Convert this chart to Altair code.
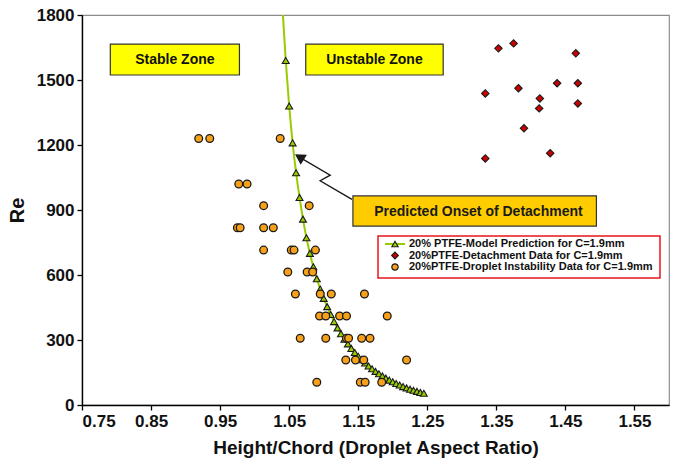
import altair as alt
import pandas as pd

# ---------------- data ----------------
model_x = [1.040, 1.045, 1.050, 1.055, 1.060, 1.065, 1.070, 1.075, 1.080, 1.085, 1.090,
           1.095, 1.100, 1.105, 1.110, 1.115, 1.120, 1.125, 1.130, 1.135, 1.140,
           1.145, 1.150, 1.155, 1.160, 1.165, 1.170, 1.175, 1.180, 1.185, 1.190,
           1.195, 1.200, 1.205, 1.210, 1.215, 1.220, 1.225, 1.230, 1.235, 1.240, 1.245]
model_re = [1850, 1590, 1380, 1210, 1072, 958, 858, 772, 700, 638, 583,
            535, 492, 454, 418, 385, 356, 329, 304, 282, 261,
            242, 225, 209, 194, 180, 167, 155, 144, 134, 124,
            115, 107, 99, 92, 85, 79, 73, 68, 63, 58, 54]

det_x = [1.353, 1.375, 1.465, 1.438, 1.468, 1.334, 1.382, 1.413, 1.412, 1.468, 1.390, 1.428, 1.334]
det_re = [1646, 1669, 1623, 1485, 1485, 1438, 1462, 1415, 1369, 1392, 1277, 1162, 1138]

inst_x = [0.919, 0.935, 1.037, 0.977, 0.989, 1.013, 1.079, 0.975, 0.979, 1.013, 1.027,
          1.013, 1.053, 1.057, 1.088, 1.048, 1.076, 1.084, 1.059, 1.095, 1.111, 1.159,
          1.094, 1.103, 1.123, 1.133, 1.192, 1.066, 1.103, 1.133, 1.136, 1.155, 1.167,
          1.132, 1.146, 1.158, 1.220, 1.090, 1.153, 1.160, 1.184]
inst_re = [1230, 1230, 1230, 1020, 1020, 920, 920, 818, 818, 818, 818,
           715, 715, 715, 715, 614, 614, 614, 512, 512, 512, 512,
           411, 411, 411, 411, 411, 308, 308, 308, 308, 308, 308,
           208, 208, 208, 208, 105, 105, 105, 105]

x_ticks = [0.75, 0.85, 0.95, 1.05, 1.15, 1.25, 1.35, 1.45, 1.55]
y_ticks = [0, 300, 600, 900, 1200, 1500, 1800]

legend_labels = ["20% PTFE-Model Prediction for C=1.9mm",
                 "20%PTFE-Detachment Data for C=1.9mm",
                 "20%PTFE-Droplet Instability Data for C=1.9mm"]

FONT = "Liberation Sans"
XDOM = [0.75, 1.60]
YDOM = [0, 1800]

model = pd.DataFrame({"x": model_x, "Re": model_re})
det = pd.DataFrame({"x": det_x, "Re": det_re})
inst = pd.DataFrame({"x": inst_x, "Re": inst_re})

xenc = alt.X("x:Q", scale=alt.Scale(domain=XDOM, nice=False, zero=False),
             axis=alt.Axis(values=x_ticks, format=".2f", title="Height/Chord (Droplet Aspect Ratio)",
                           grid=False, titlePadding=9, labelPadding=3))
yenc = alt.Y("Re:Q", scale=alt.Scale(domain=YDOM, nice=False),
             axis=alt.Axis(values=y_ticks, format="d", title="Re", grid=False, titlePadding=9,
                           labelPadding=3, titleAngle=270))

line = alt.Chart(model).mark_line(color="#99CC00", strokeWidth=2, clip=True,
                                  interpolate="monotone").encode(x=xenc, y=yenc)
tri = alt.Chart(model).mark_point(shape="triangle-up", filled=True, fill="#99CC00",
                                  stroke="#1a1a1a", strokeWidth=1.1, size=48, opacity=1,
                                  clip=True).encode(x="x:Q", y="Re:Q")
circ = alt.Chart(inst).mark_point(shape="circle", filled=True, fill="#F7A01A",
                                  stroke="#1a1a1a", strokeWidth=1.3, size=60,
                                  opacity=1).encode(x="x:Q", y="Re:Q")
dia = alt.Chart(det).mark_point(shape="diamond", filled=True, fill="#CC0000",
                                stroke="#1a1a1a", strokeWidth=1.1, size=55,
                                opacity=1).encode(x="x:Q", y="Re:Q")

# ---------------- annotations (data coordinates) ----------------
zones = pd.DataFrame({
    "x1": [0.791, 1.074], "x2": [0.978, 1.273],
    "y1": [1523, 1523], "y2": [1666, 1666],
    "tx": [0.8845, 1.1735], "ty": [1594, 1594],
    "label": ["Stable Zone", "Unstable Zone"],
})
zone_box = alt.Chart(zones).mark_rect(fill="#FFFF00", stroke="#333333", strokeWidth=1.2).encode(
    x="x1:Q", x2="x2:Q", y="y1:Q", y2="y2:Q")
zone_txt = alt.Chart(zones).mark_text(font=FONT, fontWeight="bold", fontSize=14, color="#111111",
                                      align="center", baseline="middle").encode(
    x="tx:Q", y="ty:Q", text="label:N")

call = pd.DataFrame({"x1": [1.1423], "x2": [1.4949], "y1": [826], "y2": [965],
                     "tx": [1.324], "ty": [893], "label": ["Predicted Onset of Detachment"]})
call_box = alt.Chart(call).mark_rect(fill="#FFCC00", stroke="#333333", strokeWidth=1.2).encode(
    x="x1:Q", x2="x2:Q", y="y1:Q", y2="y2:Q")
call_txt = alt.Chart(call).mark_text(font=FONT, fontWeight="bold", fontSize=14, color="#1a1a1a",
                                     align="center", baseline="middle").encode(
    x="tx:Q", y="ty:Q", text="label:N")

arrow = pd.DataFrame({"i": [0, 1, 2, 3],
                      "x": [1.1409, 1.0949, 1.1094, 1.0660],
                      "Re": [949, 1035, 1061, 1142]})
arrow_line = alt.Chart(arrow).mark_line(color="#1a1a1a", strokeWidth=1.4).encode(
    x="x:Q", y="Re:Q", order="i:Q")
head = pd.DataFrame({"x": [1.0655], "Re": [1143]})
arrow_head = alt.Chart(head).mark_point(shape="triangle-up", filled=True, fill="#1a1a1a",
                                        stroke="#1a1a1a", size=70, angle=302, opacity=1).encode(
    x="x:Q", y="Re:Q")

# ---------------- legend (drawn manually, pixel offsets within plot area) ----------------
one = pd.DataFrame({"k": [0]})
leg_box = alt.Chart(one).mark_rect(fill="white", stroke="#E8141C", strokeWidth=1.5).encode(
    x=alt.value(296), x2=alt.value(578), y=alt.value(221), y2=alt.value(263))
leg_line = alt.Chart(one).mark_rule(color="#99CC00", strokeWidth=2).encode(
    x=alt.value(303), x2=alt.value(323), y=alt.value(229))
leg_tri = alt.Chart(one).mark_point(shape="triangle-up", filled=True, fill="#99CC00",
                                    stroke="#1a1a1a", strokeWidth=1.1, size=40, opacity=1).encode(
    x=alt.value(313), y=alt.value(229))
leg_dia = alt.Chart(one).mark_point(shape="diamond", filled=True, fill="#CC0000",
                                    stroke="#1a1a1a", strokeWidth=1.1, size=45, opacity=1).encode(
    x=alt.value(313), y=alt.value(240.5))
leg_circ = alt.Chart(one).mark_point(shape="circle", filled=True, fill="#F7A01A",
                                     stroke="#1a1a1a", strokeWidth=1.2, size=40, opacity=1).encode(
    x=alt.value(313), y=alt.value(252))
leg_text = []
for lbl, yy in zip(legend_labels, [229, 240.5, 252]):
    leg_text.append(alt.Chart(one).mark_text(text=lbl, font=FONT, fontWeight="bold", fontSize=11,
                                             color="#111111", align="left",
                                             baseline="middle").encode(
        x=alt.value(327), y=alt.value(yy)))

chart = alt.layer(
    line, tri, circ, dia,
    zone_box, zone_txt, call_box, call_txt, arrow_line, arrow_head,
    leg_box, leg_line, leg_tri, leg_dia, leg_circ, *leg_text,
).properties(
    width=587, height=390,
    autosize=alt.AutoSizeParams(type="none"),
    padding={"left": 82, "top": 15, "right": 6, "bottom": 61},
    background="white",
).configure_view(
    stroke="#8c8c8c", strokeWidth=1.2,
).configure_axis(
    domainColor="#000000", domainWidth=1.4, tickColor="#000000", tickWidth=1.3, tickSize=5,
    labelFont=FONT, labelFontWeight="bold", labelFontSize=17, labelColor="#111111",
    titleFont=FONT, titleFontWeight="bold", titleColor="#111111",
).configure_axisX(
    titleFontSize=19,
).configure_axisY(
    titleFontSize=20,
)

chart.save("out.html", embed_options={"renderer": "svg", "actions": False})
